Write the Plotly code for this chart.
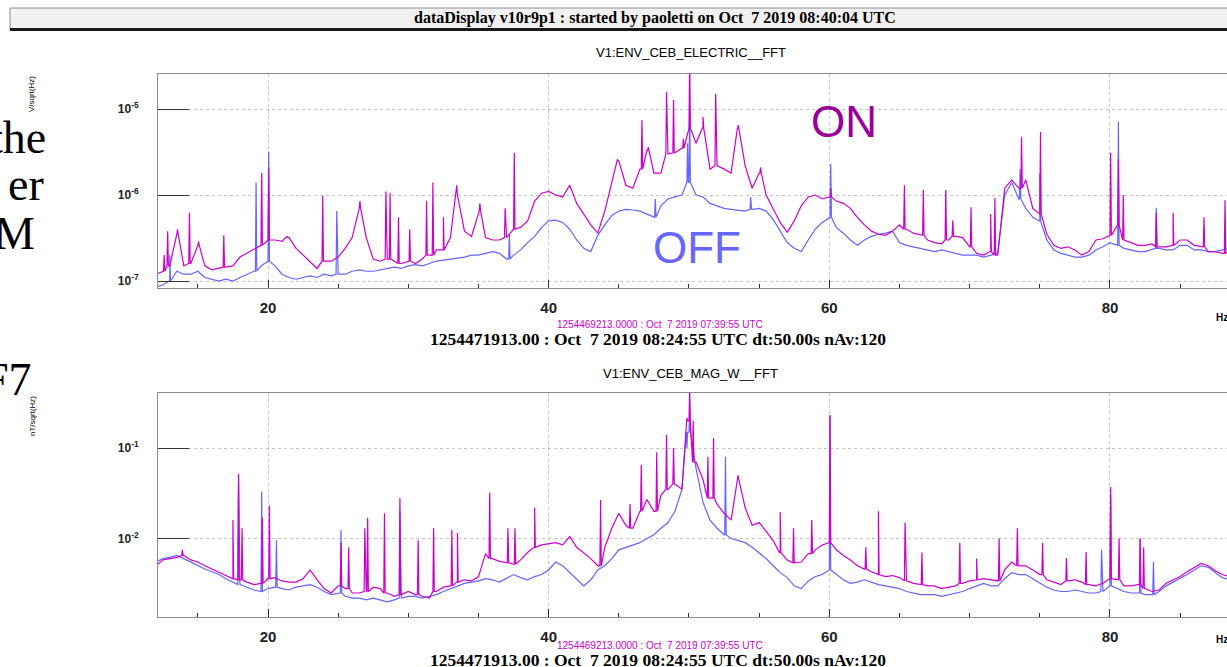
import plotly.graph_objects as go

W, H = 1227, 667

FREQ = [round(12.0 + 0.5 * i, 1) for i in range(154)]   # 12.0 ... 88.5

# ---- V1:ENV_CEB_ELECTRIC__FFT  (values in 1e-7 V/sqrt(Hz)) ----
ELEC_ON = [
    1.2, 1.3, 1.5, 3.5, 1.5, 1.6, 2.6, 1.5, 1.35, 1.4,
    1.45, 1.5, 1.9, 2.1, 2.3, 2.6, 3.0, 3.0, 2.9, 3.2,
    2.4, 2.0, 1.7, 1.4, 1.7, 1.7, 1.9, 2.4, 3.2, 7.0,
    3.2, 1.8, 1.7, 1.8, 1.7, 1.6, 1.7, 1.6, 1.8, 2.0,
    2.3, 2.3, 3.2, 10.0, 3.8, 3.3, 6.5, 3.2, 3.0, 3.0,
    3.2, 4.0, 4.2, 5.0, 8.5, 10.5, 11.0, 10.0, 9.5, 13.0,
    8.0, 6.0, 4.5, 3.6, 6.5, 14, 25, 13, 12, 20,
    33, 18, 18, 30, 31, 35, 60, 40, 60, 20,
    22, 20, 18, 60, 22, 12, 18, 10, 7.0, 4.8,
    3.7, 5.0, 7.5, 9.5, 10, 9.0, 9.5, 8.5, 8.0, 7.0,
    5.5, 4.5, 3.8, 3.5, 3.4, 3.8, 4.5, 4.0, 3.6, 3.4,
    3.0, 2.8, 2.7, 3.0, 3.3, 3.2, 2.5, 2.1, 2.0, 2.2,
    2.0, 12, 15, 12, 15, 7, 6, 3.5, 2.6, 2.4,
    2.5, 2.3, 2.0, 2.2, 3.0, 3.1, 3.4, 4.5, 3.0, 2.8,
    2.6, 2.6, 2.7, 2.5, 2.5, 2.6, 3.0, 3.0, 2.6, 2.5,
    2.2, 2.2, 2.1, 2.2,
]
ELEC_OFF = [
    0.85, 0.9, 1.0, 1.3, 1.2, 1.2, 1.3, 1.1, 1.05, 1.0,
    1.05, 1.0, 1.1, 1.2, 1.3, 1.5, 1.7, 1.5, 1.2, 1.1,
    1.05, 1.1, 1.15, 1.1, 1.2, 1.15, 1.2, 1.2, 1.3, 1.35,
    1.3, 1.3, 1.35, 1.4, 1.45, 1.4, 1.5, 1.55, 1.5, 1.6,
    1.7, 1.75, 1.8, 1.85, 1.9, 2.0, 2.0, 2.1, 2.2, 2.1,
    1.8, 2.0, 2.3, 2.8, 3.3, 4.2, 5.0, 5.1, 4.8, 4.0,
    3.0, 2.4, 2.2, 3.4, 4.5, 5.8, 6.5, 6.8, 6.7, 6.5,
    6.0, 5.5, 7.5, 9.0, 9.5, 10.0, 14, 10.0, 9.5, 8.0,
    7.5, 7.0, 6.8, 6.6, 6.5, 6.8, 7.0, 6.5, 5.2, 3.8,
    2.8, 2.4, 2.2, 3.0, 4.0, 4.8, 5.5, 4.2, 3.6, 3.0,
    2.6, 3.0, 3.3, 3.5, 3.6, 3.8, 2.8, 2.6, 2.5, 2.4,
    2.3, 2.2, 2.3, 2.2, 2.1, 2.0, 2.0, 2.0, 1.9, 2.0,
    2.1, 10, 14, 9, 7, 5.5, 5.0, 3.0, 2.3, 2.1,
    2.0, 1.9, 1.9, 2.0, 2.3, 2.5, 2.8, 2.6, 2.4, 2.3,
    2.2, 2.2, 2.3, 2.4, 2.3, 2.3, 2.6, 2.6, 2.3, 2.3,
    2.2, 2.2, 2.3, 2.4,
]
ELEC_ON_LINES = [
    (12.6, 2.0), (12.85, 3.8), (13.55, 4.0), (14.4, 6.2), (15.05, 2.9),
    (16.85, 3.4), (19.55, 18), (20.05, 21), (21.35, 3.3), (23.9, 9.8),
    (26.55, 8.5), (28.4, 11), (28.7, 10.5), (29.3, 5.5), (30.1, 4.0),
    (31.3, 8.5), (31.75, 14), (32.5, 5.5), (33.45, 13), (35.1, 8.0),
    (36.9, 7.0), (37.55, 31), (44.9, 26), (46.65, 74), (47.1, 36),
    (48.4, 158), (48.9, 127), (49.6, 45), (50.05, 400), (51.0, 81),
    (51.9, 150), (53.5, 65), (55.1, 21), (60.1, 12), (65.35, 13),
    (66.7, 11.4), (68.3, 11.4), (68.8, 5.1), (70.1, 7.2), (71.5, 6.0),
    (71.8, 9.2), (73.7, 47), (75.05, 54), (80.05, 31), (80.6, 26),
    (80.95, 10), (83.3, 6.2), (84.5, 6.2), (86.7, 5.5), (88.2, 8.7),
]
ELEC_OFF_LINES = [
    (13.0, 2.0), (19.15, 14), (20.05, 32), (24.9, 6.5), (37.2, 3.5),
    (47.6, 9.0), (49.9, 40), (50.05, 100), (54.4, 9.5), (60.1, 23),
    (73.6, 20), (75.0, 18), (80.6, 71), (83.3, 7.1),
]

# ---- V1:ENV_CEB_MAG_W__FFT  (values in 1e-3 nT/sqrt(Hz)) ----
MAG_ON = [
    5.0, 5.8, 6.0, 6.2, 6.5, 5.8, 5.5, 5.0, 4.6, 4.3,
    3.9, 3.6, 3.5, 3.3, 3.1, 3.2, 3.6, 3.7, 3.4, 3.3,
    3.3, 3.6, 4.5, 3.5, 2.8, 2.5, 3.0, 2.8, 2.5, 2.5,
    2.6, 2.9, 2.8, 2.5, 2.3, 2.4, 2.6, 2.4, 2.3, 2.2,
    2.6, 2.9, 3.0, 3.3, 3.5, 3.4, 3.8, 6.8, 6.0, 5.6,
    5.4, 5.2, 5.8, 7.0, 8.0, 8.5, 8.8, 9.0, 8.5, 10.5,
    8.0, 7.0, 6.0, 5.0, 8.0, 13, 19, 14, 13, 20,
    27, 20, 30, 35, 40, 35, 200, 70, 45, 28,
    24, 19, 16, 45, 22, 14, 15, 12, 9.5, 7.0,
    5.8, 5.4, 5.5, 6.8, 7.5, 8.5, 9.0, 7.5, 6.5, 5.8,
    5.0, 4.6, 4.3, 4.0, 3.8, 3.9, 3.7, 3.4, 3.2, 3.1,
    3.0, 3.0, 2.8, 2.9, 3.0, 3.2, 3.4, 3.5, 3.6, 3.5,
    3.4, 4.5, 5.5, 5.0, 5.0, 4.5, 4.0, 3.5, 3.3, 3.1,
    3.4, 3.5, 3.3, 3.1, 3.0, 3.2, 3.6, 3.5, 3.0, 3.0,
    3.1, 2.8, 2.6, 2.7, 3.2, 3.5, 3.8, 4.3, 4.8, 5.3,
    5.0, 4.4, 4.0, 3.8,
]
MAG_OFF = [
    5.5, 6.0, 6.2, 6.5, 6.0, 5.5, 5.0, 4.6, 4.3, 4.0,
    3.6, 3.3, 3.1, 2.9, 2.7, 2.6, 2.8, 2.9, 2.8, 2.7,
    2.9, 3.0, 3.1, 2.9, 2.6, 2.4, 2.5, 2.3, 2.2, 2.2,
    2.1, 2.2, 2.1, 2.0, 2.1, 2.2, 2.3, 2.3, 2.2, 2.3,
    2.4, 2.6, 2.8, 3.0, 3.2, 3.3, 3.4, 3.6, 3.5, 3.3,
    3.6, 4.0, 3.7, 3.5, 3.8, 4.0, 4.5, 5.5, 5.0, 4.2,
    3.6, 3.0, 3.5, 4.5, 5.0, 6.0, 7.5, 8.0, 8.5, 9.0,
    10, 11, 13, 15, 20, 35, 150, 60, 25, 16,
    13, 11, 10, 9.5, 9.0, 8.0, 7.0, 6.0, 5.0, 4.2,
    3.7, 3.0, 2.8, 3.4, 3.8, 4.0, 4.5, 4.0, 3.5, 3.2,
    3.3, 3.5, 3.3, 3.1, 3.0, 2.9, 2.8, 2.6, 2.5, 2.4,
    2.4, 2.4, 2.3, 2.4, 2.5, 2.6, 2.8, 3.0, 3.2, 3.0,
    3.0, 3.6, 4.2, 4.0, 4.0, 3.6, 3.2, 2.9, 2.7, 2.6,
    2.6, 2.7, 2.6, 2.5, 2.5, 2.6, 3.0, 2.8, 2.6, 2.5,
    2.5, 2.4, 2.4, 2.6, 3.0, 3.3, 3.6, 4.0, 4.5, 5.0,
    4.8, 4.2, 3.7, 3.5,
]
MAG_ON_LINES = [
    (13.9, 7.5), (17.5, 16), (17.9, 52), (18.15, 13), (19.6, 17),
    (20.1, 23), (25.2, 9.0), (25.75, 8.0), (26.9, 13), (27.1, 17),
    (28.3, 19), (29.4, 28), (30.7, 9.6), (31.8, 13), (33.1, 12.4),
    (33.5, 11.5), (35.8, 32), (37.1, 13), (37.6, 13), (39.0, 22),
    (43.7, 26.6), (45.8, 24), (46.6, 65), (47.7, 90), (48.4, 140),
    (48.9, 100), (49.85, 215), (50.05, 450), (50.3, 200), (51.35, 80),
    (51.75, 129), (53.5, 50), (56.5, 19.6), (57.45, 13), (58.75, 16),
    (60.05, 230), (62.6, 8.0), (63.5, 20), (65.4, 15), (66.6, 7.0),
    (69.3, 9.0), (70.5, 6.0), (72.1, 10), (73.4, 13), (75.2, 9.0),
    (76.9, 6.1), (78.3, 7.1), (80.05, 37), (80.65, 10), (82.15, 10),
    (82.4, 8.0),
]
MAG_OFF_LINES = [
    (17.9, 50), (19.55, 33), (20.6, 9.6), (25.2, 12.4), (29.4, 20),
    (49.85, 100), (50.05, 250), (52.6, 80), (60.05, 230), (79.4, 7.5),
    (80.05, 30), (82.15, 10), (83.1, 5.5),
]

X_TICKS = [20, 40, 60, 80]
TOP_DECADES = [1e-7, 1e-6, 1e-5]
TOP_LABELS = ["10<sup>-7</sup>", "10<sup>-6</sup>", "10<sup>-5</sup>"]
BOT_DECADES = [1e-2, 1e-1]
BOT_LABELS = ["10<sup>-2</sup>", "10<sup>-1</sup>"]

MAGENTA = "#cc00cc"
BLUE = "#6464ff"


def build(base, scale, lines):
    pts = list(zip(FREQ, base))
    for f, h in lines:
        i = min(range(len(FREQ)), key=lambda k: abs(FREQ[k] - f))
        b = base[i]
        pts += [(f - 0.05, b), (f, h), (f + 0.05, b)]
    pts.sort(key=lambda p: p[0])
    return [p[0] for p in pts], [p[1] * scale for p in pts]


def px(x):
    return x / W


def py(y):
    return 1 - y / H


fig = go.Figure()

for xa, ya, base, scale, lines, col in [
    ("x", "y", ELEC_OFF, 1e-7, ELEC_OFF_LINES, BLUE),
    ("x", "y", ELEC_ON, 1e-7, ELEC_ON_LINES, MAGENTA),
    ("x2", "y2", MAG_OFF, 1e-3, MAG_OFF_LINES, BLUE),
    ("x2", "y2", MAG_ON, 1e-3, MAG_ON_LINES, MAGENTA),
]:
    xs, ys = build(base, scale, lines)
    fig.add_trace(go.Scatter(x=xs, y=ys, mode="lines", xaxis=xa, yaxis=ya,
                             line=dict(color=col, width=1.2), showlegend=False,
                             hoverinfo="skip"))

XR = [12.16, 88.34]
GRID = "#c4c4c4"
AX = "#8a8a8a"
TICKC = "#333333"


def xaxis(domain_anchor):
    return dict(
        domain=[px(158), 1], range=XR, anchor=domain_anchor,
        showline=True, linecolor=AX, linewidth=1, mirror=True,
        ticks="inside", ticklen=8, tickcolor=TICKC,
        tickvals=X_TICKS, ticktext=[str(v) for v in X_TICKS],
        showgrid=True, gridcolor=GRID, griddash="dot", gridwidth=1,
        tickfont=dict(family="Liberation Sans", size=15, color="#222",
                      weight="bold"),
        ticklabelstandoff=6, zeroline=False,
        minor=dict(tickmode="linear", tick0=0, dtick=5, ticks="inside",
                   ticklen=4, tickcolor=TICKC, showgrid=False),
    )


def minor_vals(lo_dec, hi_dec):
    out = []
    for d in range(lo_dec, hi_dec + 1):
        for m in range(2, 10):
            out.append(m * 10.0 ** d)
    return out


def yaxis_major(dom, rng, vals, labels, anchor):
    return dict(
        type="log", domain=dom, range=rng, anchor=anchor,
        showline=True, linecolor=AX, linewidth=1,
        ticks="inside", ticklen=31, tickcolor=TICKC,
        tickvals=vals, ticktext=labels,
        showgrid=True, gridcolor=GRID, griddash="dot", gridwidth=1,
        tickfont=dict(family="Liberation Sans", size=12, color="#222",
                      weight="bold"),
        ticklabelstandoff=16, zeroline=False,
    )


def yaxis_minor(dom, rng, vals, over, anchor):
    return dict(
        type="log", domain=dom, range=rng, anchor=anchor, overlaying=over,
        showline=False, ticks="inside", ticklen=16, tickcolor="#555",
        tickvals=vals, showticklabels=False,
        showgrid=True, gridcolor=GRID, griddash="dot", gridwidth=1,
        zeroline=False,
    )


TOP_DOM = [py(288), py(74)]
BOT_DOM = [py(617), py(393)]
TOP_R = [-7.081, -4.593]
BOT_R = [-2.867, -0.392]

fig.update_layout(
    width=W, height=H, margin=dict(l=0, r=0, t=0, b=0),
    paper_bgcolor="white", plot_bgcolor="white",
    xaxis=xaxis("y"), xaxis2=xaxis("y2"),
    yaxis=yaxis_major(TOP_DOM, TOP_R, TOP_DECADES, TOP_LABELS, "x"),
    yaxis2=yaxis_major(BOT_DOM, BOT_R, BOT_DECADES, BOT_LABELS, "x2"),
    yaxis3=yaxis_minor(TOP_DOM, TOP_R, minor_vals(-8, -5), "y", "x"),
    yaxis4=yaxis_minor(BOT_DOM, BOT_R, minor_vals(-3, -1), "y2", "x2"),
)

# title bar
fig.add_shape(type="rect", xref="paper", yref="paper", x0=px(10), x1=1.02,
              y0=py(30), y1=py(8), fillcolor="#f1f1f1",
              line=dict(color="#8c8c8c", width=1), layer="below")
fig.add_shape(type="line", xref="paper", yref="paper", x0=px(10), x1=1.02,
              y0=py(29.5), y1=py(29.5), line=dict(color="#1a1a1a", width=3))

SERIF = "Liberation Serif"
SANS = "Liberation Sans"


def ann(text, x, y, size, color="#000", family=SANS, weight="normal",
        xanchor="center", angle=0):
    fig.add_annotation(text=text, x=px(x), y=py(y), xref="paper", yref="paper",
                       showarrow=False, xanchor=xanchor, yanchor="middle",
                       textangle=angle,
                       font=dict(size=size, color=color, family=family,
                                 weight=weight))


ann("dataDisplay v10r9p1 : started by paoletti on Oct  7 2019 08:40:04 UTC",
    655, 18, 16, family=SERIF, weight="bold")
ann("V1:ENV_CEB_ELECTRIC__FFT", 691, 52, 13)
ann("V1:ENV_CEB_MAG_W__FFT", 690, 373, 13)
for y0 in (0, 321):
    ann("1254469213.0000 : Oct  7 2019 07:39:55 UTC", 660, 324 + y0, 10,
        color=MAGENTA)
    ann("1254471913.00 : Oct  7 2019 08:24:55 UTC dt:50.00s nAv:120",
        658, 339 + y0, 17.5, family=SERIF, weight="bold")
    ann("Hz", 1214, 318 + y0, 10, weight="bold", xanchor="left")
ann("V/sqrt(Hz)", 31, 94, 8, angle=-90)
ann("nT/sqrt(Hz)", 32, 416, 8, angle=-90)

ann("ON", 844, 121, 44, color="#990099")
ann("OFF", 697, 248, 44, color="#6666ff")

ann("the", 48, 138, 46, family=SERIF, xanchor="right")
ann("er", 46, 184, 46, family=SERIF, xanchor="right")
ann("M", 37, 234, 46, family=SERIF, xanchor="right")
ann("F7", 34, 379, 46, family=SERIF, xanchor="right")

fig.write_html("out.html")
